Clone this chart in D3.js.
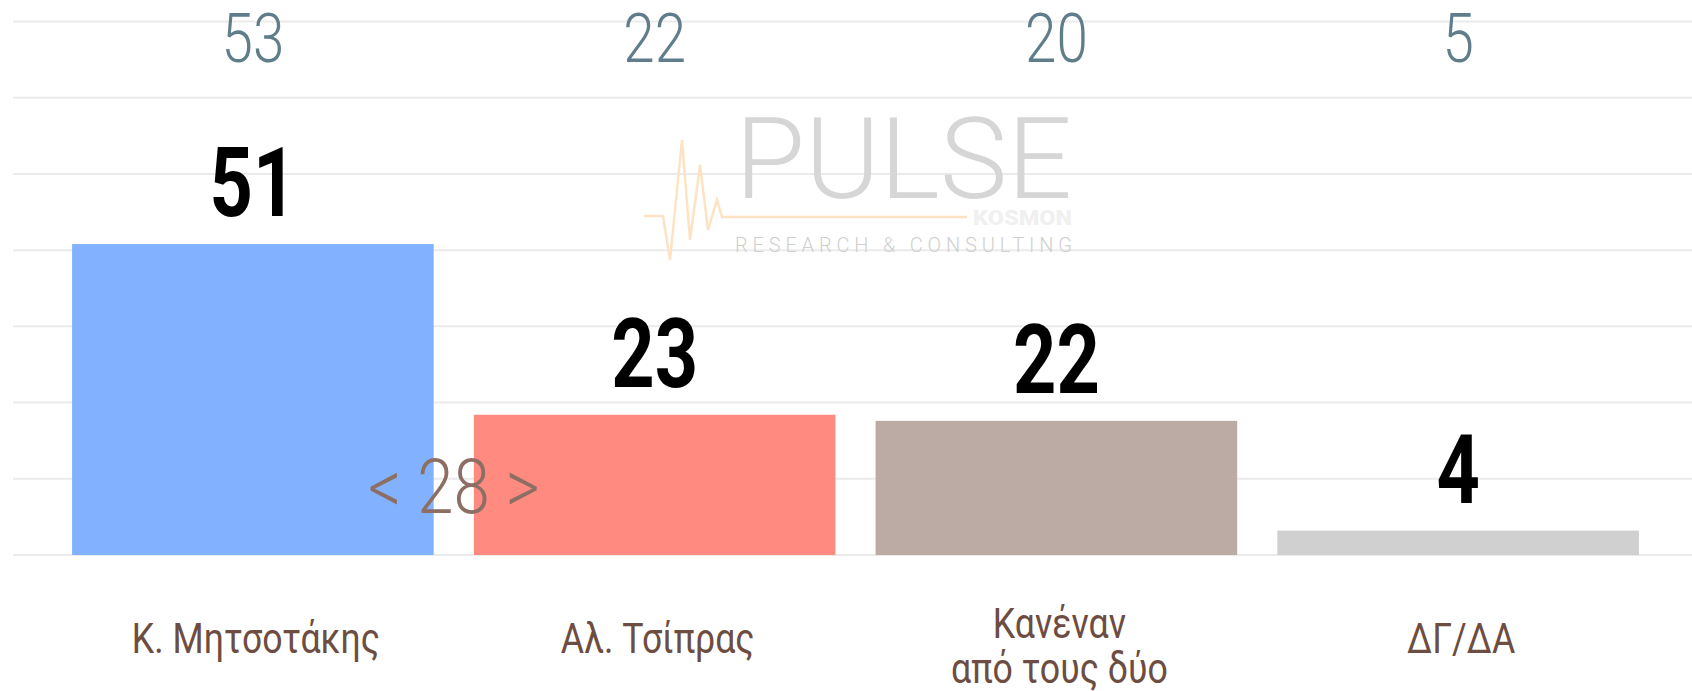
<!DOCTYPE html>
<html>
<head>
<meta charset="utf-8">
<script src="https://cdn.jsdelivr.net/npm/d3@7"></script>
<style>
  body { margin: 0; background: #fff; }
  text { font-family: Roboto, "Noto Sans", sans-serif; }
</style>
</head>
<body>
<svg id="chart"></svg>
<script>
// poll data
var categories = ["K. Μητσοτάκης", "Αλ. Τσίπρας", "Κανέναν\nαπό τους δύο", "ΔΓ/ΔΑ"];
var values = [51, 23, 22, 4];
var previous = [53, 22, 20, 5];
var colors = ["#82b1ff", "#ff8a80", "#bcaaa4", "#d0d0d0"];
var gridTicks = [0, 12.5, 25, 37.5, 50, 62.5, 75, 87.5];

var width = 1692, height = 691;

var svg = d3.select("#chart").attr("width", width).attr("height", height);

var x = d3.scaleBand().domain(categories).range([52, 1659]).paddingInner(0.1).paddingOuter(0.05);
var y = d3.scaleLinear().domain([0, 87.5]).range([555, 21.5]);

// gridlines
svg.append("g").selectAll("line").data(gridTicks).enter().append("line")
  .attr("x1", 13).attr("x2", width)
  .attr("y1", function (d) { return y(d); })
  .attr("y2", function (d) { return y(d); })
  .attr("stroke", "#ebebeb").attr("stroke-width", 2);

// watermark
var wm = svg.append("g");
wm.append("polyline")
  .attr("points", "644,216 663,216 670,260 682,140 690,240 700,165 708,230 717,200 722,217 967,217")
  .attr("fill", "none").attr("stroke", "#fde3c4").attr("stroke-width", 2.5);
wm.append("text").attr("x", 735).attr("y", 198).text("PULSE")
  .attr("font-size", 114).attr("font-weight", 300).attr("fill", "#d6d6d6")
  .attr("textLength", 337).attr("lengthAdjust", "spacing");
wm.append("text").attr("x", 973).attr("y", 225).text("KOSMON")
  .attr("font-size", 20).attr("font-weight", 900).attr("fill", "#f0f0f0")
  .attr("textLength", 99).attr("lengthAdjust", "spacingAndGlyphs");
wm.append("text").attr("x", 735).attr("y", 252).text("RESEARCH & CONSULTING")
  .attr("font-size", 20).attr("font-weight", 300).attr("fill", "#cfcfcf")
  .attr("textLength", 337).attr("lengthAdjust", "spacing");

// bars
svg.append("g").selectAll("rect").data(values).enter().append("rect")
  .attr("x", function (d, i) { return x(categories[i]); })
  .attr("y", function (d) { return y(d); })
  .attr("width", x.bandwidth())
  .attr("height", function (d) { return y(0) - y(d); })
  .attr("fill", function (d, i) { return colors[i]; });

function cx(i) { return x(categories[i]) + x.bandwidth() / 2; }

// value labels
svg.append("g").selectAll("text").data(values).enter().append("text")
  .attr("transform", function (d, i) {
    return "translate(" + cx(i) + "," + (y(d) - 28) + ") scale(0.78,1)";
  })
  .attr("text-anchor", "middle").attr("font-size", 97).attr("font-weight", 700)
  .attr("fill", "#000").text(function (d) { return d; });

// previous wave numbers on top
svg.append("g").selectAll("text").data(previous).enter().append("text")
  .attr("transform", function (d, i) {
    return "translate(" + cx(i) + ",62) scale(0.82,1)";
  })
  .attr("text-anchor", "middle").attr("font-size", 69).attr("font-weight", 300)
  .attr("fill", "#607d8b").text(function (d) { return d; });

// difference marker
svg.append("text")
  .attr("transform", "translate(" + ((cx(0) + cx(1)) / 2) + "," + (y(0) - 42) + ") scale(0.86,1)")
  .attr("text-anchor", "middle").attr("font-size", 76).attr("font-weight", 300)
  .attr("fill", "#8d6e63").text("< " + (values[0] - values[1]) + " >");

// category labels
var cat = svg.append("g").selectAll("text").data(categories).enter().append("text")
  .attr("transform", function (d, i) {
    var lines = d.split("\n").length;
    return "translate(" + (cx(i) + 3) + "," + (653 - (lines - 1) * 15) + ") scale(0.83,1)";
  })
  .attr("text-anchor", "middle").attr("font-size", 43).attr("font-weight", 400)
  .attr("fill", "#6d4c41");
cat.selectAll("tspan").data(function (d) { return d.split("\n"); }).enter().append("tspan")
  .attr("x", 0).attr("dy", function (d, i) { return i === 0 ? 0 : 45; })
  .text(function (d) { return d; });
</script>
</body>
</html>
